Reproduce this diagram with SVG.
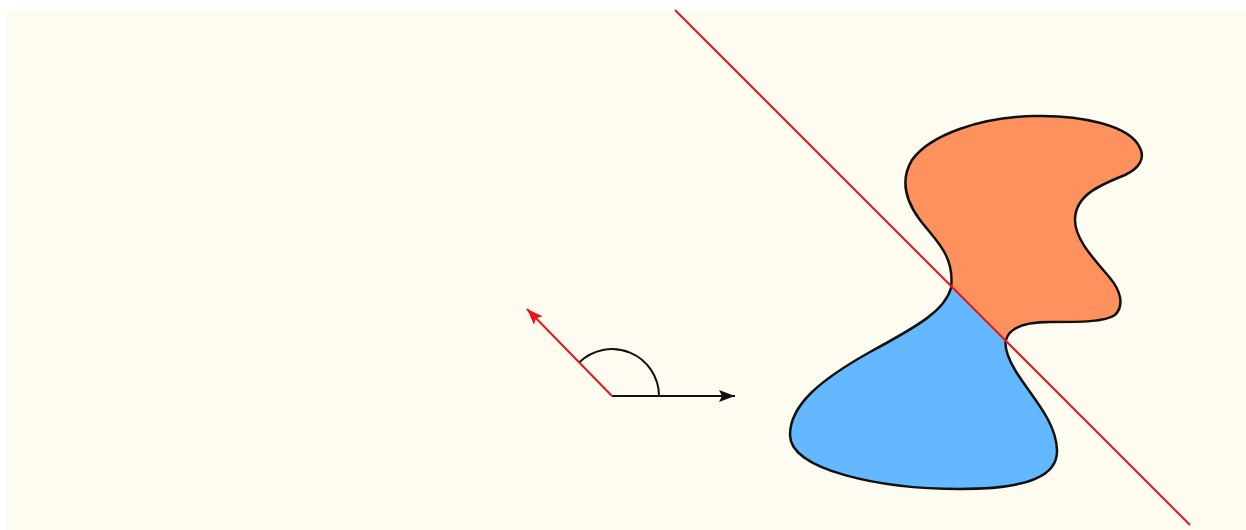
<svg xmlns="http://www.w3.org/2000/svg" width="1246" height="530" viewBox="0 0 1246 530">
<style>
.outline{fill:none;stroke:#111;stroke-width:2.5;stroke-linejoin:round}
.red{stroke:#e8161b;stroke-width:2;fill:none}
.blk{stroke:#111;stroke-width:2;fill:none}
</style>
<defs>
<marker id="ahBlack" viewBox="0 0 16 12" refX="16" refY="6" markerWidth="16" markerHeight="12" markerUnits="userSpaceOnUse" orient="auto">
<path d="M0,0 L16,6 L0,12 L3,6 Z" fill="#111"/>
</marker>
<marker id="ahRed" viewBox="0 0 16 12" refX="16" refY="6" markerWidth="16" markerHeight="12" markerUnits="userSpaceOnUse" orient="auto">
<path d="M0,0 L16,6 L0,12 L3,6 Z" fill="#e8161b"/>
</marker>
<path id="blob" d="M 951,288 C 945,310 920,325 870,352 C 820,380 790,405 790,435 C 790,470 880,489 960,489 C 1030,489 1058,475 1057,450 C 1056,420 1030,395 1015,370 C 1008,358 1004,348 1006,340 C 1010,325 1030,322 1050,322 C 1080,322 1105,322 1115,315 C 1125,305 1120,290 1110,278 C 1095,260 1075,240 1075,220 C 1075,195 1100,185 1125,175 C 1140,168 1145,158 1140,148 C 1130,125 1080,115 1035,116 C 980,117 930,135 912,160 C 900,180 905,200 920,220 C 935,240 955,255 951,288 Z"/>
<clipPath id="upper"><polygon points="665,0 1300,0 1300,635"/></clipPath>
</defs>
<rect x="0" y="0" width="1246" height="530" fill="#ffffff"/>
<rect x="6" y="10" width="1240" height="520" fill="#fefcf0"/>
<g id="shape">
<use href="#blob" fill="#63b8ff"/>
<use href="#blob" fill="#ff915e" clip-path="url(#upper)"/>
<use href="#blob" class="outline"/>
</g>
<g id="angle">
<path class="blk" d="M 659,396 A 47,47 0 0 0 578.8,362.8"/>
</g>
<g id="connectors">
<line class="red" x1="675" y1="10" x2="1190" y2="525"/>
<line class="blk" x1="612" y1="396" x2="735" y2="396" marker-end="url(#ahBlack)"/>
<line class="red" x1="612" y1="396" x2="527" y2="309" marker-end="url(#ahRed)"/>
</g>
</svg>
